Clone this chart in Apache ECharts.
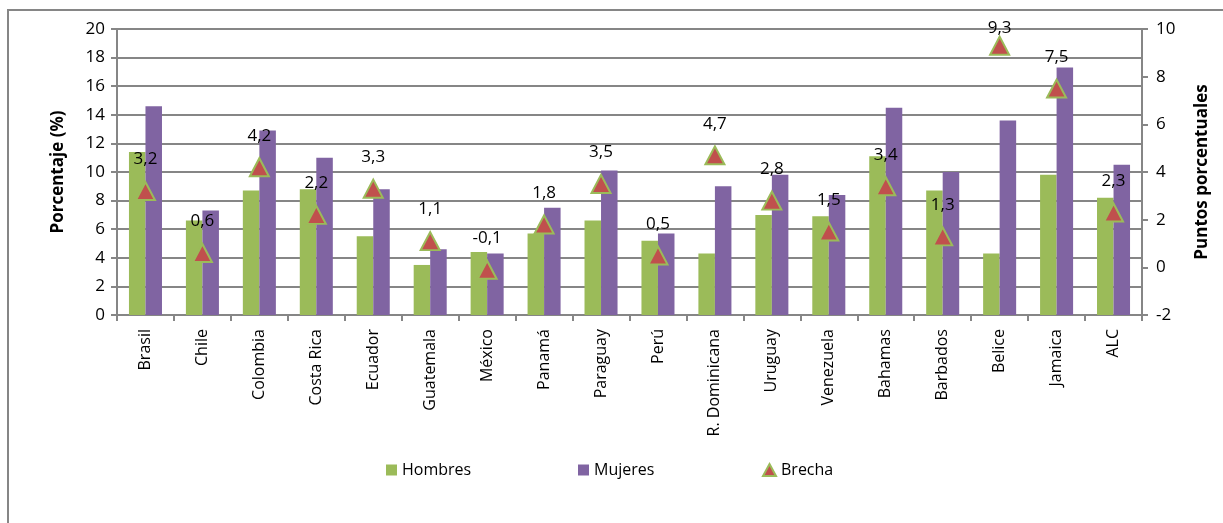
<!DOCTYPE html>
<html>
<head>
<meta charset="utf-8">
<script src="https://cdn.jsdelivr.net/npm/echarts@6/dist/echarts.min.js"></script>
<style>
html,body{margin:0;padding:0;background:#fff;}
#chart{width:1223px;height:523px;}
</style>
</head>
<body>
<div id="chart"></div>
<script>
const categories = ['Brasil','Chile','Colombia','Costa Rica','Ecuador','Guatemala','México','Panamá','Paraguay','Perú','R. Dominicana','Uruguay','Venezuela','Bahamas','Barbados','Belice','Jamaica','ALC'];
const hombres = [11.4, 6.6, 8.7, 8.8, 5.5, 3.5, 4.4, 5.7, 6.6, 5.2, 4.3, 7.0, 6.9, 11.1, 8.7, 4.3, 9.8, 8.2];
const mujeres = [14.6, 7.3, 12.9, 11.0, 8.8, 4.6, 4.3, 7.5, 10.1, 5.7, 9.0, 9.8, 8.4, 14.5, 10.0, 13.6, 17.3, 10.5];
const brecha = [3.2, 0.6, 4.2, 2.2, 3.3, 1.1, -0.1, 1.8, 3.5, 0.5, 4.7, 2.8, 1.5, 3.4, 1.3, 9.3, 7.5, 2.3];
const leftTicks = [0, 20, 2];
const rightTicks = [-2, 10, 2];

const FONT = 'Open Sans';
const chart = echarts.init(document.getElementById('chart'), null, {renderer: 'canvas'});
const axisGray = '#868686';

const legendText = {fontFamily: FONT, fontSize: 16, color: '#000'};
const labelBase = {show: true, fontFamily: FONT, fontSize: 17, color: '#000',
  formatter: p => String(p.value).replace('.', ',')};

// points near the top of the frame get their label pulled down toward the marker
const brechaData = brecha.map(v => ({
  value: v,
  label: v > 9 ? {position: 'inside', offset: [0, -18]} : {position: 'top', distance: 13}
}));

chart.setOption({
  animation: false,
  backgroundColor: '#fff',
  textStyle: {fontFamily: FONT, color: '#000'},
  graphic: [{
    type: 'rect', silent: true, z: -1,
    shape: {x: 8, y: 10, width: 1400, height: 700},
    style: {fill: 'none', stroke: axisGray, lineWidth: 2}
  }],
  grid: {left: 117, right: 1223 - 1142, top: 29, bottom: 523 - 315, containLabel: false},
  legend: [
    {top: 457, left: 381, itemWidth: 11, itemHeight: 11, textStyle: legendText,
     data: [{name: 'Hombres', icon: 'rect'}]},
    {top: 457, left: 573, itemWidth: 11, itemHeight: 11, textStyle: legendText,
     data: [{name: 'Mujeres', icon: 'rect'}]},
    {top: 457, left: 757, itemWidth: 13, itemHeight: 12, textStyle: legendText,
     data: [{name: 'Brecha', icon: 'triangle', itemStyle: {color: '#C0504D', borderColor: '#9BBB59', borderWidth: 2}}]}
  ],
  xAxis: {
    type: 'category', data: categories,
    axisLine: {lineStyle: {color: axisGray, width: 2}},
    axisTick: {show: true, alignWithLabel: false, length: 6, lineStyle: {color: axisGray, width: 2}},
    axisLabel: {rotate: 90, fontFamily: FONT, fontSize: 16, color: '#000', margin: 14, interval: 0}
  },
  yAxis: [{
    type: 'value', min: leftTicks[0], max: leftTicks[1], interval: leftTicks[2],
    name: 'Porcentaje (%)', nameLocation: 'middle', nameGap: 50, nameRotate: 90,
    nameTextStyle: {fontFamily: FONT, fontSize: 17, fontWeight: 'bold', color: '#000'},
    axisLine: {show: true, lineStyle: {color: axisGray, width: 2}},
    axisTick: {show: true, length: 6, lineStyle: {color: axisGray, width: 2}},
    axisLabel: {fontFamily: FONT, fontSize: 17, color: '#000', margin: 12},
    splitLine: {show: true, lineStyle: {color: axisGray, width: 2}}
  }, {
    type: 'value', min: rightTicks[0], max: rightTicks[1], interval: rightTicks[2], position: 'right',
    name: 'Puntos porcentuales', nameLocation: 'middle', nameGap: 52, nameRotate: 90,
    nameTextStyle: {fontFamily: FONT, fontSize: 17, fontWeight: 'bold', color: '#000'},
    axisLine: {show: true, lineStyle: {color: axisGray, width: 2}},
    axisTick: {show: true, length: 6, lineStyle: {color: axisGray, width: 2}},
    axisLabel: {fontFamily: FONT, fontSize: 17, color: '#000', margin: 14},
    splitLine: {show: false}
  }],
  series: [{
    name: 'Hombres', type: 'bar', yAxisIndex: 0, data: hombres,
    barGap: '0%', barCategoryGap: '42%',
    itemStyle: {color: '#9BBB59'}
  }, {
    name: 'Mujeres', type: 'bar', yAxisIndex: 0, data: mujeres,
    barGap: '0%', barCategoryGap: '42%',
    itemStyle: {color: '#8064A2'}
  }, {
    name: 'Brecha', type: 'scatter', yAxisIndex: 1, data: brechaData,
    symbol: 'triangle', symbolSize: [19, 18],
    itemStyle: {color: '#C0504D', borderColor: '#9BBB59', borderWidth: 2, opacity: 1},
    label: labelBase,
    z: 5
  }]
});
</script>
</body>
</html>
